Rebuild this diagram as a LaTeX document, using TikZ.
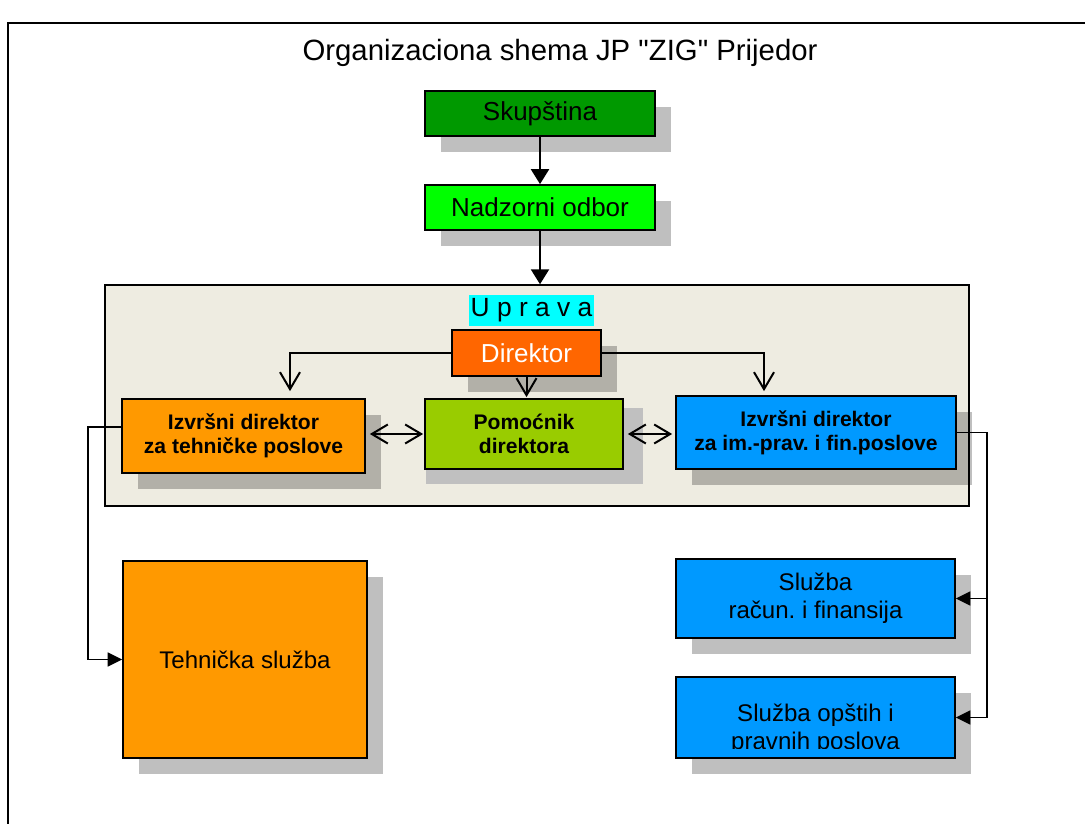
\documentclass[tikz,border=0pt]{standalone}
\usepackage{fontspec}
\setmainfont{Liberation Sans}[Ligatures=TeXOff]
\usetikzlibrary{arrows.meta,positioning,calc,shadows}
\frenchspacing
\definecolor{skupgreen}{HTML}{009900}
\definecolor{nadzorgreen}{HTML}{00FF00}
\definecolor{upravabg}{HTML}{EEECE1}
\definecolor{upravacyan}{HTML}{00FFFF}
\definecolor{direktorred}{HTML}{FF6600}
\definecolor{tehorange}{HTML}{FF9900}
\definecolor{pomocgreen}{HTML}{99CC00}
\definecolor{finblue}{HTML}{0099FF}
\definecolor{shadowgray}{HTML}{C0C0C0}
\tikzset{
  box/.style={draw=black, line width=0.35mm, inner sep=0pt, align=center,
              font=\fontsize{14.8}{17}\selectfont},
  shadowed/.style={drop shadow={shadow xshift=0.32cm, shadow yshift=-0.32cm,
                   fill=black, opacity=0.25}},
  boldbox/.style={box, font=\bfseries\fontsize{12}{13.7}\selectfont},
  servicebox/.style={box, font=\fontsize{13.7}{16}\selectfont},
  arrow/.style={-{Triangle[length=3mm,width=3.6mm]}, line width=0.45mm},
  link/.style={-{Triangle[length=2.9mm,width=2.8mm]}, line width=0.35mm},
  openarrow/.style={-{Straight Barb[length=3.4mm,width=4mm]}, line width=0.4mm},
  twoway/.style={{Straight Barb[length=3.2mm,width=3.8mm]}-{Straight Barb[length=3.2mm,width=3.8mm]},
                 line width=0.4mm}
}
\begin{document}
\begin{tikzpicture}[x=0.02cm,y=-0.02cm]
  \useasboundingbox (0,0) rectangle (1085,824);
  % page frame
  \draw[line width=0.3mm] (8,830) -- (8,23) -- (1090,23);
  \node[font=\fontsize{16.7}{20}\selectfont] (title) at (560,53) {Organizaciona shema JP "ZIG" Prijedor};
  % top of the chart
  \node[box, shadowed, fill=skupgreen, minimum width=4.6cm, minimum height=0.9cm] (skup) at (540,113.5) {Skupština};
  \node[box, shadowed, fill=nadzorgreen, minimum width=4.6cm, minimum height=0.9cm] (nadzor) at (540,207.5) {Nadzorni odbor};
  % management frame
  \node[draw=black, line width=0.3mm, fill=upravabg, minimum width=17.28cm, minimum height=4.42cm,
        inner sep=0pt] (uprava) at (537,395.5) {};
  \node[fill=upravacyan, inner sep=0pt, minimum width=2.5cm, minimum height=0.62cm,
        font=\fontsize{15}{17}\selectfont] (upravalbl) at (531.5,310.5) {U p r a v a};
  \draw[arrow] (skup.south) -- (skup.south |- nadzor.north);
  \draw[arrow] (nadzor.south) -- (nadzor.south |- uprava.north);
  \node[box, shadowed, fill=direktorred, text=white, minimum width=2.98cm, minimum height=0.92cm] (direktor) at (526.5,353) {Direktor};
  \node[boldbox, shadowed, fill=tehorange, minimum width=4.86cm, minimum height=1.48cm] (izvrsniT) at (243.5,436)
    {Izvršni direktor\\za tehničke poslove};
  \fill[shadowgray] (426,408) rectangle (643,484);
  \node[boldbox, fill=pomocgreen, minimum width=3.96cm, minimum height=1.4cm] (pomocnik) at (524,434)
    {Pomoćnik\\direktora};
  \node[boldbox, shadowed, fill=finblue, minimum width=5.6cm, minimum height=1.46cm] (izvrsniF) at (816,432.5)
    {Izvršni direktor\\za im.-prav. i fin.poslove};
  % director links
  \draw[openarrow, shorten >=1.4mm] (direktor.west) -| ($(izvrsniT.north)+(46.5,0)$);
  \draw[openarrow, shorten >=0.8mm] (direktor.east) -| ($(izvrsniF.north)+(-52,0)$);
  \draw[openarrow, shorten >=0.2mm] (direktor.south) -- (direktor.south |- pomocnik.north);
  \draw[twoway, shorten <=0.8mm, shorten >=0.2mm] (izvrsniT.east |- pomocnik.west) -- (pomocnik.west);
  \draw[twoway, shorten <=0.8mm, shorten >=0.6mm] (pomocnik.east) -- (pomocnik.east -| izvrsniF.west);
  % services
  \node[servicebox, shadowed, fill=tehorange, minimum width=4.88cm, minimum height=3.94cm] (tehnicka) at (245,659.5)
    {Tehnička služba};
  \node[servicebox, shadowed, fill=finblue, minimum width=5.58cm, minimum height=1.58cm] (racun) at (815.5,598.5)
    {Služba\\račun. i finansija};
  \node[servicebox, shadowed, fill=finblue, minimum width=5.58cm, minimum height=1.62cm] (opsti) at (815.5,717.5) {};
  \begin{scope}
    \clip (opsti.north west) rectangle ($(opsti.south east)+(0,-10)$);
    \node[servicebox, draw=none, align=center] (opstitxt) at ($(opsti.center)+(0,12)$) {Služba opštih i\\pravnih poslova};
  \end{scope}
  \draw[link] ($(izvrsniT.west)+(0,-9)$) -- ++(-33,0) |- (tehnicka.west);
  \draw[link] (izvrsniF.east) -- ++(30,0) coordinate (fbus) |- (racun.east);
  \draw[link] (fbus) |- (opsti.east);
\end{tikzpicture}
\end{document}
